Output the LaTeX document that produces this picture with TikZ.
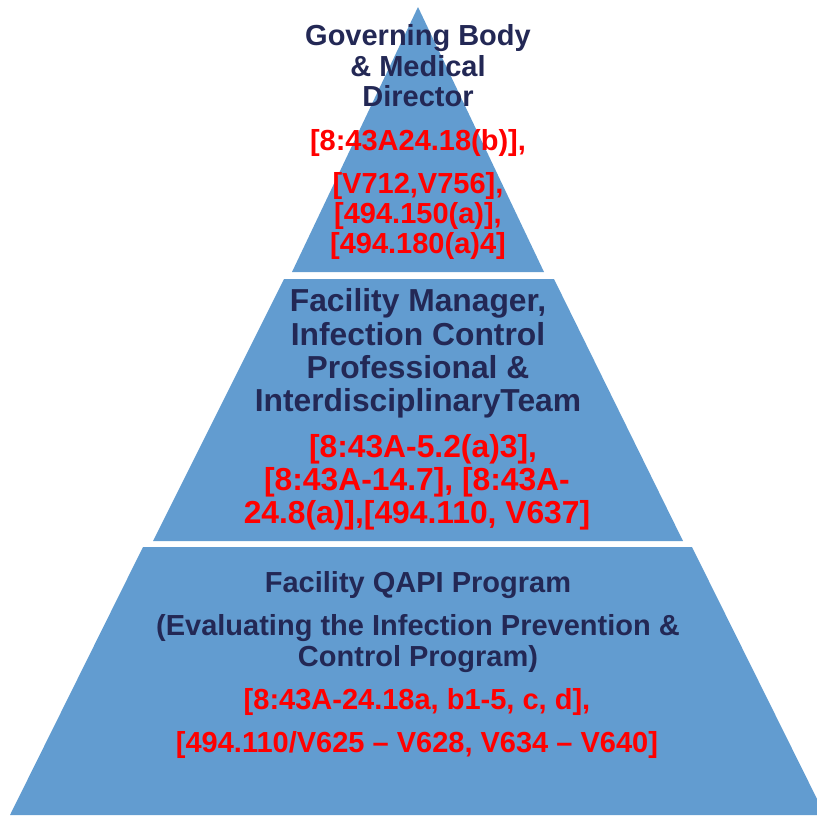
\documentclass[tikz,border=0pt]{standalone}
\usepackage{fontspec}
\setmainfont{Liberation Sans}
\usetikzlibrary{calc}

\definecolor{tierblue}{RGB}{98,156,208}
\definecolor{titlenavy}{RGB}{35,40,85}
\definecolor{refred}{RGB}{255,0,0}

\begin{document}
\begin{tikzpicture}[x=1pt, y=-1pt,
	tier/.style={fill=tierblue, draw=none},
	title text/.style={text=titlenavy, align=center, inner sep=0pt},
	ref text/.style={text=refred, align=center, inner sep=0pt}]
	
	\useasboundingbox (0,0) rectangle (817,815);
	
	% the three tiers
	\fill [tier] (418,7) -- (292,272) -- (544,272) -- cycle;
	\fill [tier] (284,279) -- (554,279) -- (683,541) -- (153,541) -- cycle;
	\fill [tier] (143,547) -- (692,547) -- (825,815) -- (10,815) -- cycle;
	
	% top tier
	\node [title text, font=\bfseries\fontsize{29}{30.5}\selectfont] (top-title) at (418,66)
	{Governing Body\\ \& Medical\\ Director};
	\node [ref text, font=\bfseries\fontsize{29}{30}\selectfont] (top-refs) at (418,194)
	{{[}8:43A24.18(b)],\\[13pt] {[}V712,V756],\\ {[}494.150(a)],\\ {[}494.180(a)4]};
	
	% middle tier
	\node [title text, font=\bfseries\fontsize{31.8}{33.3}\selectfont] (mid-title) at (418,353.5)
	{Facility Manager,\\ Infection Control\\ Professional \&\\ InterdisciplinaryTeam};
	\node [ref text, font=\bfseries\fontsize{31.8}{33}\selectfont] (mid-refs) at (417,482)
	{\hspace*{12pt}{[}8:43A-5.2(a)3],\\ {[}8:43A-14.7], [8:43A-\\ 24.8(a)],[494.110, V637]};
	
	% bottom tier
	\node [title text, font=\bfseries\fontsize{29}{31}\selectfont] (base-title) at (418,622)
	{Facility QAPI Program\\[12pt] (Evaluating the Infection Prevention \&\\ Control Program)};
	\node [ref text, font=\bfseries\fontsize{29}{31}\selectfont] (base-refs) at (417,723)
	{{[}8:43A-24.18a, b1-5, c, d],\\[12pt] {[}494.110/V625 – V628, V634 – V640]};
	
\end{tikzpicture}
\end{document}
